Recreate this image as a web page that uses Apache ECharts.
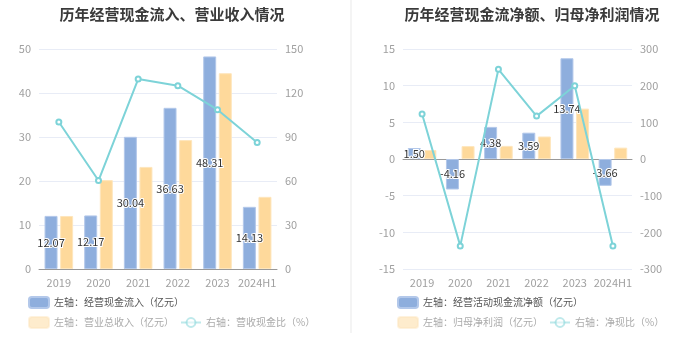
<!DOCTYPE html>
<html><head><meta charset="utf-8">
<script src="https://cdn.jsdelivr.net/npm/echarts@6/dist/echarts.min.js"></script>
<style>html,body{margin:0;padding:0;background:#fff}#c{width:699px;height:359px}</style>
</head><body><div id="c"></div>
<script>
const years = ['2019','2020','2021','2022','2023','2024H1'];
const cashInflow = [12.07, 12.17, 30.04, 36.63, 48.31, 14.13];
const revenue = [12.05, 20.2, 23.2, 29.3, 44.5, 16.4];
const revCashRatio = [100.2, 60.3, 129.5, 125.0, 108.6, 86.3];
const netCashFlow = [1.50, -4.16, 4.38, 3.59, 13.74, -3.66];
const netProfit = [1.22, 1.76, 1.79, 3.07, 6.87, 1.55];
const netCashRatio = [122.7, -237, 244.6, 117, 200, -237];

const FONT = '"Noto Sans CJK SC", sans-serif';
const BLUE = '#8eaedd', YEL = '#fed99b', TEAL = '#7dd3d8';
const axisLabel = {color:'#a0a0a0', fontSize:11, fontFamily:FONT};
const xLabel = {color:'#a0a0a0', fontSize:11, fontFamily:FONT, interval:0};
const splitLine = {lineStyle:{color:'#e8ecf6', width:1}};
const barLabel = {show:true, position:'inside', color:'#333', fontSize:11, fontFamily:FONT, textBorderColor:'#fff', textBorderWidth:2, formatter:p=>p.value.toFixed(2)};
const lg = {padding:0, itemWidth:20, itemHeight:11, width:320, itemGap:6};

const chart = echarts.init(document.getElementById('c'), null, {renderer:'canvas'});
chart.setOption({
  animation:false,
  textStyle:{fontFamily:FONT},
  title:[
    {text:'历年经营现金流入、营业收入情况', left:167, top:2, textAlign:'center', textStyle:{fontSize:15, fontWeight:'bold', color:'#3a3a3a', fontFamily:FONT}},
    {text:'历年经营现金流净额、归母净利润情况', left:527, top:2, textAlign:'center', textStyle:{fontSize:15, fontWeight:'bold', color:'#3a3a3a', fontFamily:FONT}}
  ],
  graphic:[{type:'line', shape:{x1:351,y1:0,x2:351,y2:333}, style:{stroke:'#f0f0f0', lineWidth:1.5}}],
  grid:[
    {left:39, right:422, top:49, bottom:90},
    {left:403, right:67, top:49, bottom:90}
  ],
  legend:[
    Object.assign({left:28, top:296, textStyle:{fontSize:10, color:'#555'}, data:['左轴：经营现金流入（亿元）']}, lg),
    Object.assign({left:28, top:316, textStyle:{fontSize:10, color:'#aaa'}, data:[
      {name:'左轴：营业总收入（亿元）', itemStyle:{opacity:0.5}},
      {name:'右轴：营收现金比（%）', itemStyle:{opacity:0.5}, lineStyle:{opacity:0.5}}]}, lg),
    Object.assign({left:397, top:296, textStyle:{fontSize:10, color:'#555'}, data:['左轴：经营活动现金流净额（亿元）']}, lg),
    Object.assign({left:397, top:316, textStyle:{fontSize:10, color:'#aaa'}, data:[
      {name:'左轴：归母净利润（亿元）', itemStyle:{opacity:0.5}},
      {name:'右轴：净现比（%）', itemStyle:{opacity:0.5}, lineStyle:{opacity:0.5}}]}, lg)
  ],
  xAxis:[
    {gridIndex:0, type:'category', data:years, axisLine:{lineStyle:{color:'#999'}}, axisTick:{alignWithLabel:true, lineStyle:{color:'#999'}}, axisLabel:xLabel},
    {gridIndex:1, type:'category', data:years, position:'bottom', axisLine:{show:false, onZero:false}, axisTick:{show:false}, axisLabel:xLabel},
    {gridIndex:1, type:'category', data:years, position:'bottom', axisLine:{onZero:true, lineStyle:{color:'#999'}}, axisTick:{alignWithLabel:true, lineStyle:{color:'#999'}}, axisLabel:{show:false}}
  ],
  yAxis:[
    {gridIndex:0, type:'value', min:0, max:50, interval:10, axisLabel:axisLabel, splitLine:splitLine, axisLine:{show:false}},
    {gridIndex:0, type:'value', min:0, max:150, interval:30, axisLabel:axisLabel, splitLine:{show:false}, axisLine:{show:false}},
    {gridIndex:1, type:'value', min:-15, max:15, interval:5, axisLabel:axisLabel, splitLine:splitLine, axisLine:{show:false}},
    {gridIndex:1, type:'value', min:-300, max:300, interval:100, axisLabel:axisLabel, splitLine:{show:false}, axisLine:{show:false}}
  ],
  series:[
    {name:'左轴：经营现金流入（亿元）', type:'bar', xAxisIndex:0, yAxisIndex:0, data:cashInflow, barWidth:13, barGap:'20%', itemStyle:{color:BLUE, borderColor:'#b3c8ea', borderWidth:1}, label:barLabel},
    {name:'左轴：营业总收入（亿元）', type:'bar', xAxisIndex:0, yAxisIndex:0, data:revenue, barWidth:13, barGap:'20%', itemStyle:{color:YEL, borderColor:'#fee6bd', borderWidth:1}},
    {name:'右轴：营收现金比（%）', type:'line', xAxisIndex:0, yAxisIndex:1, data:revCashRatio, symbol:'emptyCircle', symbolSize:5, itemStyle:{color:TEAL}, lineStyle:{color:TEAL, width:2}, z:5},
    {name:'左轴：经营活动现金流净额（亿元）', type:'bar', xAxisIndex:1, yAxisIndex:2, data:netCashFlow, barWidth:13, barGap:'20%', itemStyle:{color:BLUE, borderColor:'#b3c8ea', borderWidth:1}, label:barLabel},
    {name:'左轴：归母净利润（亿元）', type:'bar', xAxisIndex:1, yAxisIndex:2, data:netProfit, barWidth:13, barGap:'20%', itemStyle:{color:YEL, borderColor:'#fee6bd', borderWidth:1}},
    {name:'右轴：净现比（%）', type:'line', xAxisIndex:1, yAxisIndex:3, data:netCashRatio, symbol:'emptyCircle', symbolSize:5, itemStyle:{color:TEAL}, lineStyle:{color:TEAL, width:2}, z:5}
  ]
});
</script></body></html>
